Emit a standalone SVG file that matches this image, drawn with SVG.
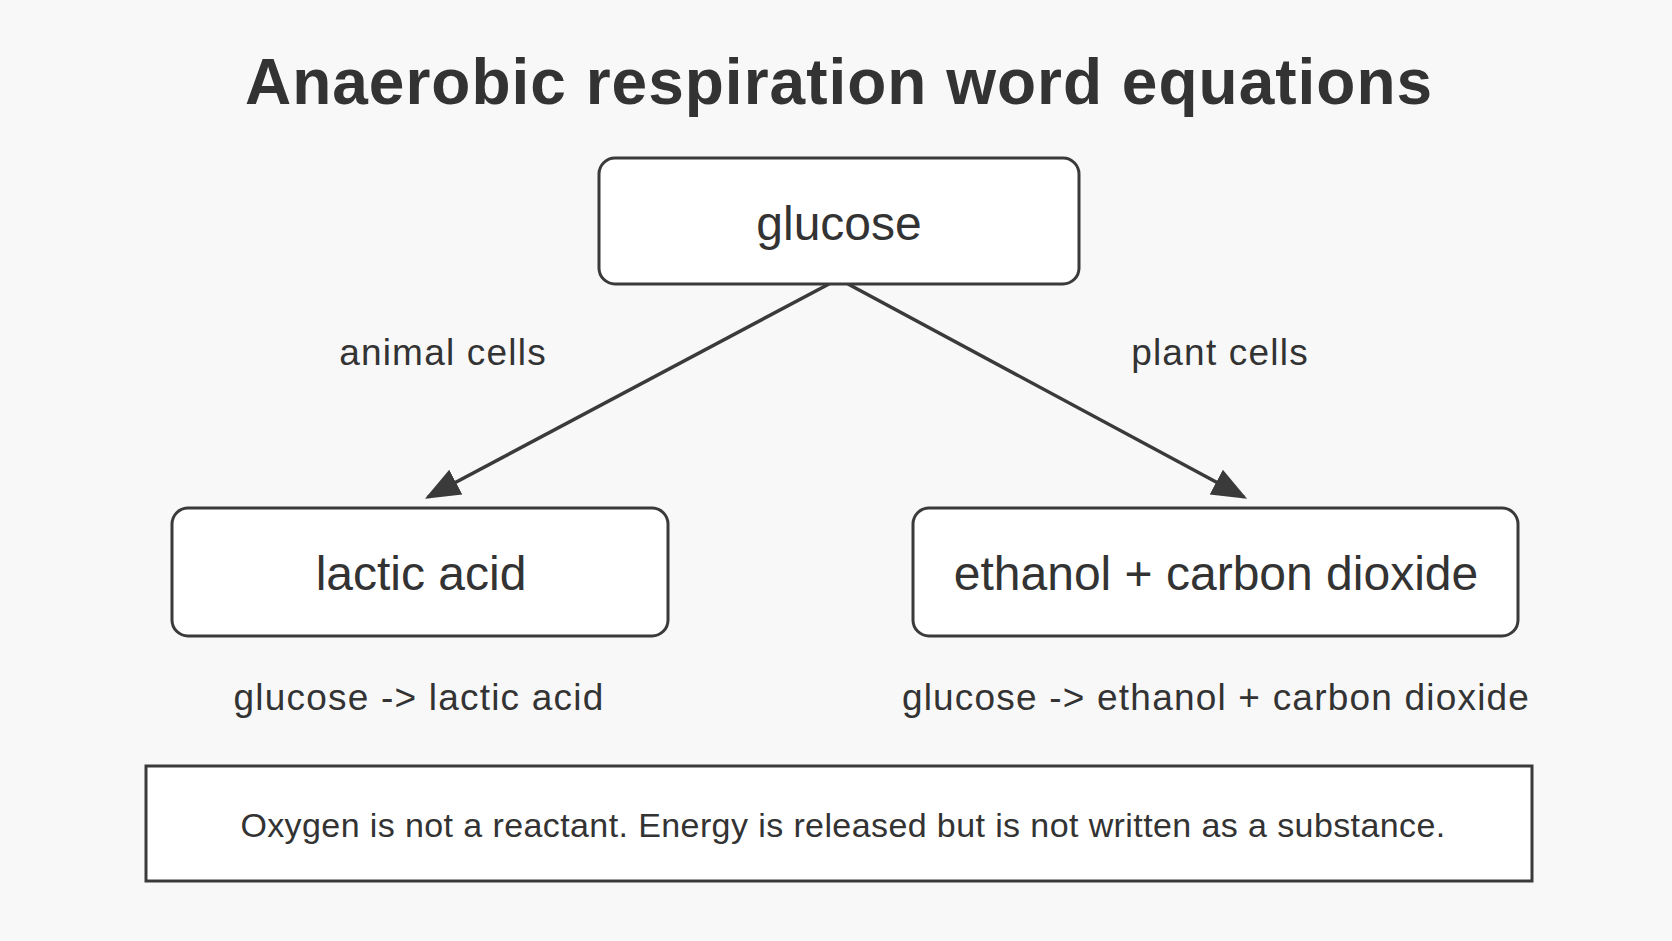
<svg xmlns="http://www.w3.org/2000/svg" width="1672" height="941" viewBox="0 0 1672 941">
<style>
text{font-family:"Liberation Sans",Arial,sans-serif;fill:#333;text-anchor:middle}
.box{fill:#fff;stroke:#3a3a3a;stroke-width:3}
.node{font-size:48px}
.lab{font-size:37px;letter-spacing:1.2px}
.conn{stroke:#3a3a3a;stroke-width:3.5;fill:none}
</style>
<defs>
<marker id="a" viewBox="0 0 10 10" refX="9" refY="5" markerWidth="10" markerHeight="10" orient="auto"><path d="M0,1L10,5L0,9z" fill="#3a3a3a"/></marker></defs>
<rect width="1672" height="941" fill="#f8f8f8"/>
<text x="839" y="104" font-size="64" font-weight="bold" letter-spacing="1">Anaerobic respiration word equations</text>
<g id="connectors">
<line class="conn" x1="829" y1="284" x2="428" y2="497" marker-end="url(#a)"/>
<line class="conn" x1="848" y1="284" x2="1244" y2="497" marker-end="url(#a)"/>
<text class="lab" x="443" y="365">animal cells</text>
<text class="lab" x="1220" y="365">plant cells</text>
</g>
<g id="glucose"><rect class="box" x="599" y="158" width="480" height="126" rx="16"/><text class="node" x="839" y="240">glucose</text></g>
<g id="lactic"><rect class="box" x="172" y="508" width="496" height="128" rx="16"/><text class="node" x="421" y="590">lactic acid</text></g>
<g id="ethanol"><rect class="box" x="913" y="508" width="605" height="128" rx="16"/><text class="node" x="1216" y="590">ethanol + carbon dioxide</text></g>
<g id="equations">
<text class="lab" x="419" y="710" letter-spacing="3">glucose -&gt; lactic acid</text>
<text class="lab" x="1216" y="710" letter-spacing="1">glucose -&gt; ethanol + carbon dioxide</text>
</g>
<g id="note"><rect x="146" y="766" width="1386" height="115" fill="#fff" stroke="#3a3a3a" stroke-width="3"/><text x="843" y="837" font-size="34" letter-spacing="0.4">Oxygen is not a reactant. Energy is released but is not written as a substance.</text></g>
</svg>
